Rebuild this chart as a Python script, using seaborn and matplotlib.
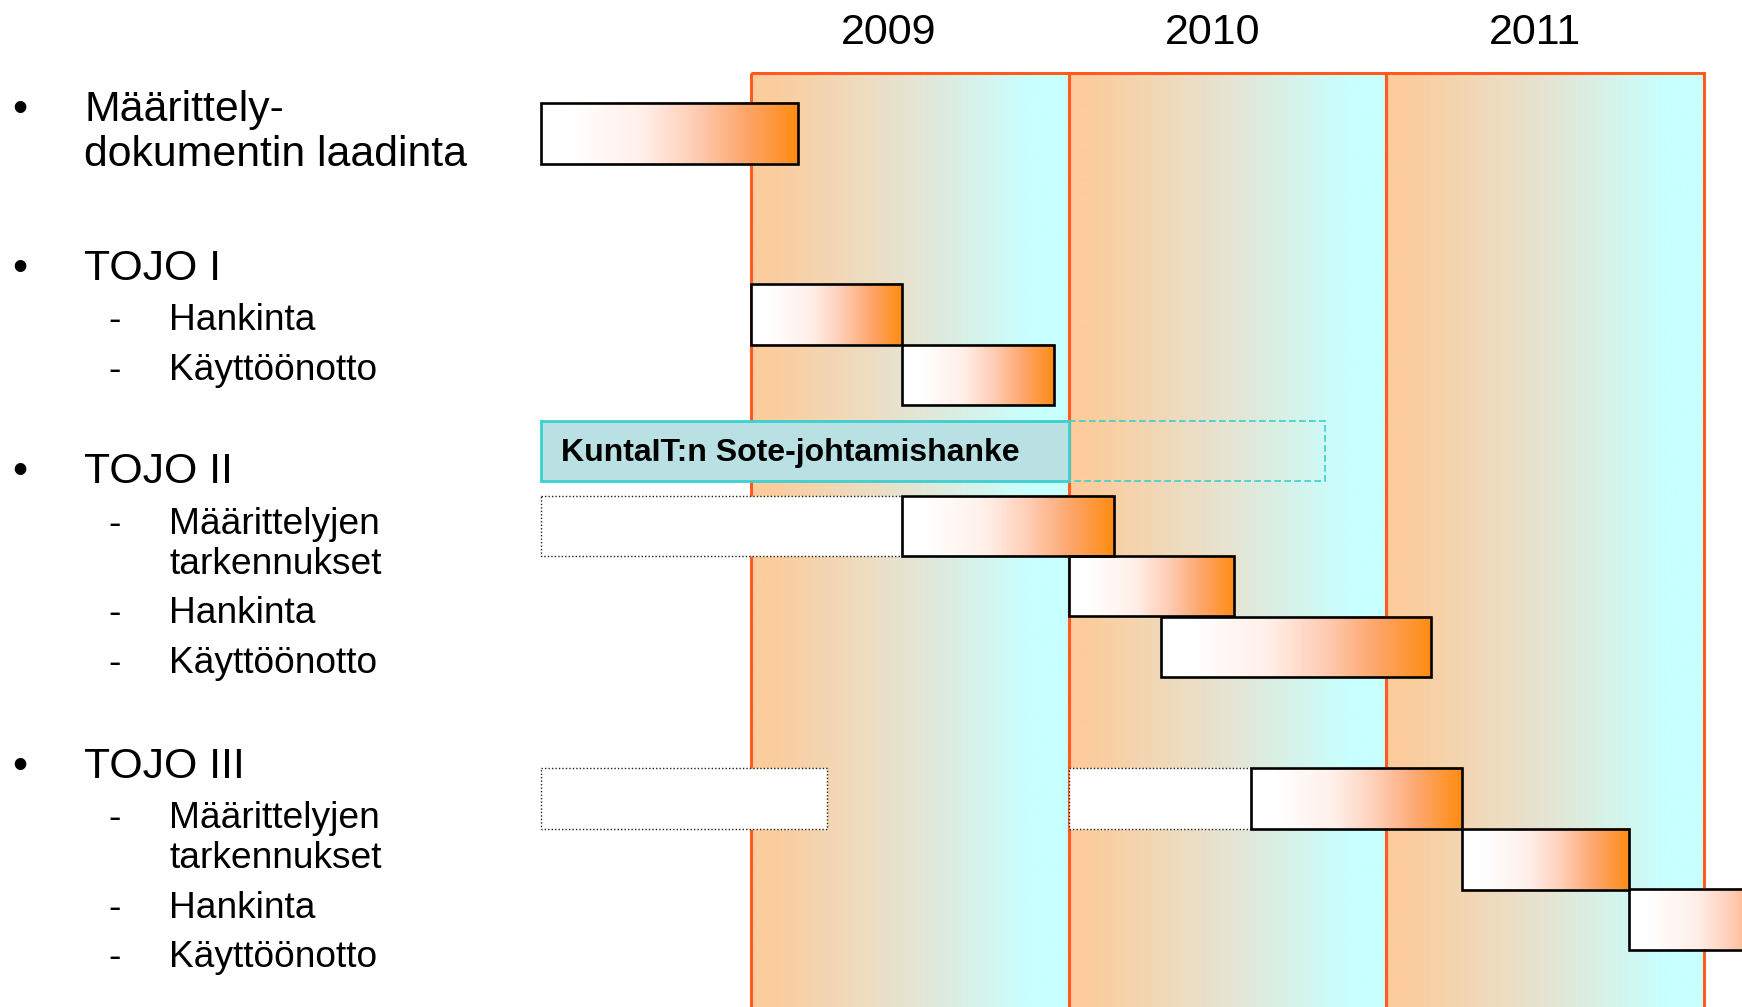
import numpy as np
import matplotlib
matplotlib.use("Agg")
import matplotlib.pyplot as plt
from matplotlib.colors import LinearSegmentedColormap
from matplotlib.patches import Rectangle
import seaborn as sns

# ---------------- data ----------------
years = [2009, 2010, 2011]
year_labels = ["2009", "2010", "2011"]

task_names = ["Määrittely-dokumentin laadinta",
              "TOJO I Hankinta", "TOJO I Käyttöönotto",
              "TOJO II Määrittelyjen tarkennukset", "TOJO II Hankinta", "TOJO II Käyttöönotto",
              "TOJO III Määrittelyjen tarkennukset", "TOJO III Hankinta", "TOJO III Käyttöönotto"]
task_start = [2008.34, 2009.00, 2009.475, 2009.475, 2010.00, 2010.29, 2010.574, 2011.238, 2011.764]
task_end   = [2009.147, 2009.475, 2009.955, 2010.142, 2010.52, 2011.142, 2011.238, 2011.764, 2012.30]

# planned (dotted) segments: (task index, start, end)
plan_task = [3, 6, 6]
plan_start = [2008.34, 2008.34, 2010.00]
plan_end = [2009.475, 2009.238, 2010.574]

project_label = "KuntaIT:n Sote-johtamishanke"
project_start = 2008.34
project_end = 2010.00
project_ext_end = 2010.806

labels_main = ["Määrittely-\ndokumentin laadinta", "TOJO I", "TOJO II", "TOJO III"]
labels_sub = [["Hankinta", "Käyttöönotto"],
              ["Määrittelyjen\ntarkennukset", "Hankinta", "Käyttöönotto"],
              ["Määrittelyjen\ntarkennukset", "Hankinta", "Käyttöönotto"]]

# ---------------- layout (pixels) ----------------
W, H = 1742, 1007
task_top = [103, 284, 344.5, 495.5, 555.5, 616.5, 768, 829, 889]
row_h = 60.5
proj_top = 421
box_top = 73
x_2009_px = 751
px_per_year = 317.67
year_label_offset = [0.434, 0.454, 0.467]

sns.set_theme(style="white")
plt.rcParams["font.family"] = ["Liberation Sans", "DejaVu Sans"]

fig = plt.figure(figsize=(W / 100, H / 100), dpi=100)
ax = fig.add_axes([0, 0, 1, 1])
x0 = 2009 - x_2009_px / px_per_year
x1 = x0 + W / px_per_year
ax.set_xlim(x0, x1)
ax.set_ylim(H, 0)
ax.axis("off")

year_cmap = LinearSegmentedColormap.from_list(
    "yr", [(0, "#FCCC9C"), (0.06, "#FCCC9C"), (0.5, "#E6E4D2"), (0.88, "#C8FFFF"), (1, "#C8FFFF")])
bar_cmap = LinearSegmentedColormap.from_list(
    "bar", [(0, "#FFFFFF"), (0.12, "#FFFFFF"), (0.4, "#FFEFE8"), (0.6, "#FFCDB5"),
            (0.8, "#FDA56A"), (1, "#FF8C12")])
grad = np.linspace(0, 1, 256).reshape(1, -1)

# year columns
for y in years:
    ax.imshow(grad, extent=[y, y + 1, H + 5, box_top], cmap=year_cmap, aspect="auto",
              interpolation="bilinear", zorder=0)
    ax.add_patch(Rectangle((y, box_top), 1, H + 10 - box_top, fill=False,
                           edgecolor="#FF5A1F", lw=2.2, zorder=1))
for y, lab, off in zip(years, year_labels, year_label_offset):
    ax.text(y + off, 33, lab, ha="center", va="center", fontsize=31, color="black")

# planned dotted boxes
for ti, s, e in zip(plan_task, plan_start, plan_end):
    ax.barh(task_top[ti], e - s, height=row_h, left=s, align="edge", color="white",
            edgecolor="#222222", lw=1.0, linestyle=(0, (1, 1.5)), zorder=3)

# task bars with gradient
for s, e, t in zip(task_start, task_end, task_top):
    ax.imshow(grad, extent=[s, e, t + row_h, t], cmap=bar_cmap, aspect="auto",
              interpolation="bilinear", zorder=4)
    ax.barh(t, e - s, height=row_h, left=s, align="edge", color="none",
            edgecolor="black", lw=1.9, zorder=5)

# project box
ax.barh(proj_top, project_end - project_start, height=row_h - 1, left=project_start,
        align="edge", color="#B9E0E2", edgecolor="#3CCFCF", lw=2.0, zorder=6)
ax.barh(proj_top, project_ext_end - project_end, height=row_h - 1, left=project_end,
        align="edge", color="none", edgecolor="#3CCFCF", lw=1.2, linestyle=(0, (4, 2)), zorder=6)
ax.text(project_start + 20 / px_per_year, proj_top + row_h / 2 + 2, project_label,
        ha="left", va="center", fontsize=23, fontweight="bold", color="black", zorder=7)

# left-hand text
def ft(x, y, s, **kw):
    fig.text(x / W, 1 - y / H, s, va="baseline", ha="left", color="black", **kw)

main_base = [121, 280, 483, 778]
sub_base = [[330, 380], [534, 623, 673], [828, 918, 967]]
main_fs, sub_fs = 30.8, 26.7
for lab, b in zip(labels_main, main_base):
    ft(12, b, "•", fontsize=main_fs)
    lines = lab.split("\n")
    for k, ln in enumerate(lines):
        ft(84, b + 45 * k, ln, fontsize=main_fs)
for subs, bases in zip(labels_sub, sub_base):
    for lab, b in zip(subs, bases):
        lines = lab.split("\n")
        ft(108, b, "-", fontsize=sub_fs)
        for k, ln in enumerate(lines):
            ft(169, b + 40 * k, ln, fontsize=sub_fs)

fig.savefig("out.png", dpi=100, facecolor="white")
